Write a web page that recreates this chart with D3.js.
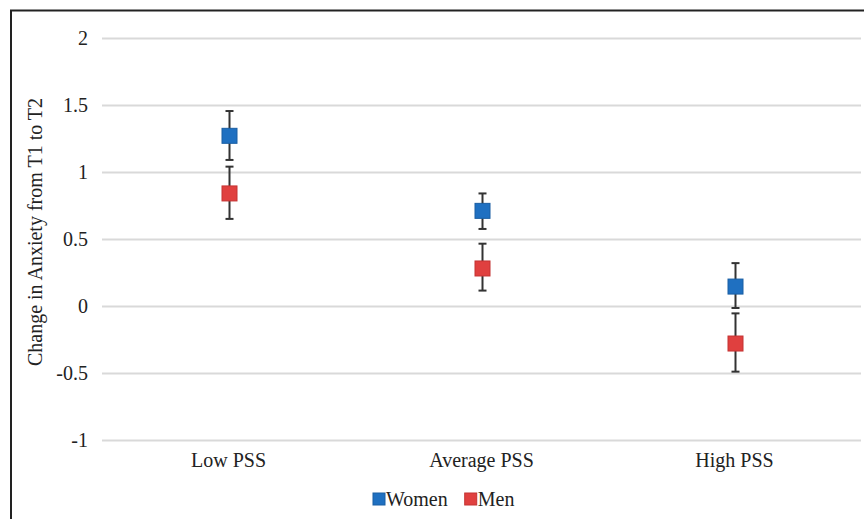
<!DOCTYPE html>
<html>
<head>
<meta charset="utf-8">
<script src="https://cdn.jsdelivr.net/npm/d3@7"></script>
</head>
<body style="margin:0; background:#fff">
<div id="graph"></div>
<script>
// values
var categories = ['Low PSS', 'Average PSS', 'High PSS']
var seriesNames = ['Women', 'Men']
var womenMean = [1.27, 0.71, 0.145]
var womenLow = [1.09, 0.575, -0.015]
var womenHigh = [1.455, 0.84, 0.32]
var menMean = [0.84, 0.28, -0.28]
var menLow = [0.65, 0.115, -0.49]
var menHigh = [1.04, 0.465, -0.055]
var yTicks = [-1, -0.5, 0, 0.5, 1, 1.5, 2]

var colors = { 'Women': '#1f70c1', 'Men': '#e0403f' }
var strokes = { 'Women': '#1a5ea3', 'Men': '#c43332' }
var serif = '"Liberation Serif", serif'

var W = 864, H = 519
var margin = { top: 38, right: 3, bottom: 79, left: 102 }
var width = W - margin.left - margin.right
var height = H - margin.top - margin.bottom

var svg = d3.select('#graph').append('svg')
    .attr('width', W)
    .attr('height', H)

// frame: only top and left edges show in the reference
svg.append('line').attr('x1', 10).attr('x2', W).attr('y1', 10.5).attr('y2', 10.5)
    .attr('stroke', '#222').attr('stroke-width', 2)
svg.append('line').attr('x1', 11).attr('x2', 11).attr('y1', 10).attr('y2', H)
    .attr('stroke', '#222').attr('stroke-width', 2)

var g = svg.append('g').attr('transform', 'translate(' + margin.left + ',' + margin.top + ')')

var x = d3.scaleBand().domain(categories).range([0, width])
var y = d3.scaleLinear().domain([-1, 2]).range([height, 0])

// gridlines
g.selectAll('.grid').data(yTicks).enter().append('line')
    .attr('class', 'grid')
    .attr('x1', 0).attr('x2', width)
    .attr('y1', function (d) { return Math.round(y(d)) + 0.5 })
    .attr('y2', function (d) { return Math.round(y(d)) + 0.5 })
    .attr('stroke', '#d9d9d9').attr('stroke-width', 2)

// y axis labels
var yAxis = d3.axisLeft(y).tickValues(yTicks).tickSize(0).tickPadding(14)
    .tickFormat(function (d) { return String(d) })
var ya = g.append('g').call(yAxis)
ya.select('.domain').remove()
ya.selectAll('text').style('font-size', '20px').style('font-family', serif).attr('fill', '#222')

// x axis labels
var xAxis = d3.axisBottom(x).tickSize(0).tickPadding(13)
var xa = g.append('g').attr('transform', 'translate(0,' + height + ')').call(xAxis)
xa.select('.domain').remove()
xa.selectAll('text').style('font-size', '20px').style('font-family', serif).attr('fill', '#222')

// axis title
svg.append('text')
    .attr('transform', 'translate(42,232) rotate(-90)')
    .attr('text-anchor', 'middle')
    .attr('fill', '#222')
    .style('font-family', serif)
    .style('font-size', '20px')
    .text('Change in Anxiety from T1 to T2')

var data = []
categories.forEach(function (c, i) {
    data.push({ cat: c, s: 'Women', v: womenMean[i], lo: womenLow[i], hi: womenHigh[i] })
    data.push({ cat: c, s: 'Men', v: menMean[i], lo: menLow[i], hi: menHigh[i] })
})

var cx = function (d) { return Math.round(x(d.cat) + x.bandwidth() / 2) + 0.5 }

// error bars
var eb = g.selectAll('.err').data(data).enter().append('g').attr('class', 'err')
eb.append('line')
    .attr('x1', cx).attr('x2', cx)
    .attr('y1', function (d) { return y(d.hi) }).attr('y2', function (d) { return y(d.lo) })
    .attr('stroke', '#333').attr('stroke-width', 2)
eb.append('line')
    .attr('x1', function (d) { return cx(d) - 4 }).attr('x2', function (d) { return cx(d) + 4 })
    .attr('y1', function (d) { return y(d.hi) }).attr('y2', function (d) { return y(d.hi) })
    .attr('stroke', '#333').attr('stroke-width', 2)
eb.append('line')
    .attr('x1', function (d) { return cx(d) - 4 }).attr('x2', function (d) { return cx(d) + 4 })
    .attr('y1', function (d) { return y(d.lo) }).attr('y2', function (d) { return y(d.lo) })
    .attr('stroke', '#333').attr('stroke-width', 2)

// markers
var ms = 15
g.selectAll('.dot').data(data).enter().append('rect')
    .attr('class', 'dot')
    .attr('x', function (d) { return cx(d) - ms / 2 })
    .attr('y', function (d) { return y(d.v) - ms / 2 })
    .attr('width', ms).attr('height', ms)
    .attr('fill', function (d) { return colors[d.s] })
    .attr('stroke', function (d) { return strokes[d.s] })
    .attr('stroke-width', 1)

// legend
var legend = svg.append('g').attr('transform', 'translate(373,499)')
var lx = 0
seriesNames.forEach(function (s) {
    var item = legend.append('g').attr('transform', 'translate(' + lx + ',0)')
    item.append('rect').attr('x', 0).attr('y', -6).attr('width', 12).attr('height', 12)
        .attr('fill', colors[s]).attr('stroke', strokes[s]).attr('stroke-width', 1)
    var t = item.append('text').attr('x', 13).attr('y', 6.5)
        .attr('fill', '#222')
        .style('font-family', serif).style('font-size', '20px').text(s)
    lx += 13 + t.node().getComputedTextLength() + 17
})
</script>
</body>
</html>
